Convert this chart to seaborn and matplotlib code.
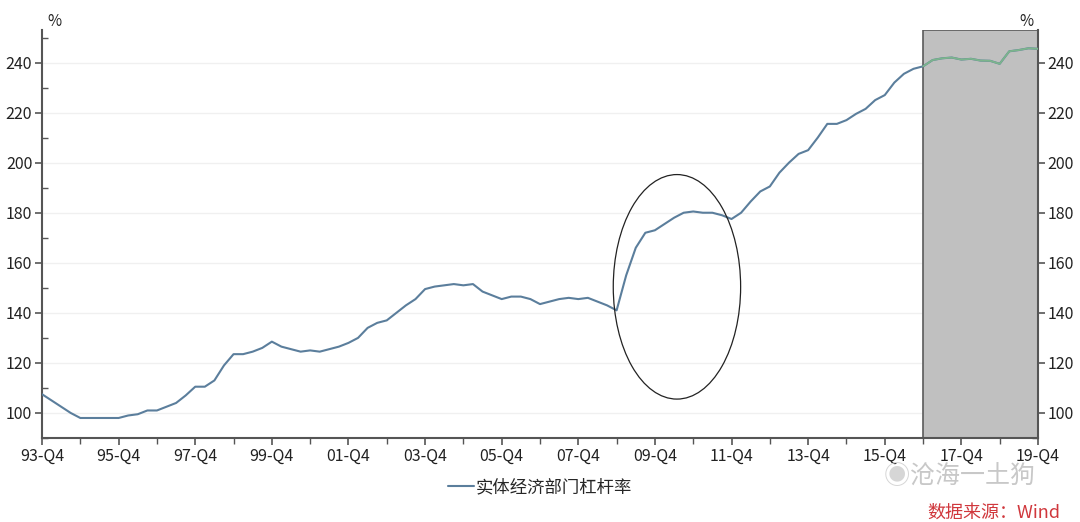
import matplotlib
matplotlib.use("Agg")
import matplotlib.pyplot as plt
from matplotlib.patches import Ellipse, Rectangle
from matplotlib.ticker import MultipleLocator
import seaborn as sns
import numpy as np
import pandas as pd

# quarterly leverage ratio, 93-Q4 .. 19-Q4
leverage = [
    107.5, 105, 102.5, 100, 98, 98, 98, 98, 98, 99,
    99.5, 101, 101, 102.5, 104, 107, 110.5, 110.5, 113, 119,
    123.5, 123.5, 124.5, 126, 128.5, 126.5, 125.5, 124.5, 125, 124.5,
    125.5, 126.5, 128, 130, 134, 136, 137, 140, 143, 145.5,
    149.5, 150.5, 151, 151.5, 151, 151.5, 148.5, 147, 145.5, 146.5,
    146.5, 145.5, 143.5, 144.5, 145.5, 146, 145.5, 146, 144.5, 143,
    141, 155, 166, 172, 173, 175.5, 178, 180, 180.5, 180,
    180, 179, 177.5, 180, 184.5, 188.5, 190.5, 196, 200, 203.5,
    205, 210, 215.5, 215.5, 217, 219.5, 221.5, 225, 227, 232,
    235.5, 237.5, 238.5, 241, 241.7, 242, 241.2, 241.5, 240.8, 240.7,
    239.5, 244.5, 245, 245.7, 245.5,
]
tick_labels = ["93-Q4", "95-Q4", "97-Q4", "99-Q4", "01-Q4", "03-Q4", "05-Q4",
               "07-Q4", "09-Q4", "11-Q4", "13-Q4", "15-Q4", "17-Q4", "19-Q4"]
series_name = "实体经济部门杠杆率"
shade_start = 92  # 16-Q4

df = pd.DataFrame({"q": np.arange(len(leverage)), "val": leverage})

sns.set_style("white")
plt.rcParams["font.family"] = ["Noto Sans CJK SC", "DejaVu Sans"]

fig = plt.figure(figsize=(10.8, 5.22), dpi=100)
ax = fig.add_axes([0.0389, 0.1609, 0.9222, 0.7816])

ymin, ymax = 90, 253
ax.set_ylim(ymin, ymax)
ax.set_xlim(0, 104)

for y in range(100, 241, 20):
    ax.axhline(y, color="#f0f0f0", lw=1, zorder=0)

ax.add_patch(Rectangle((shade_start, ymin), 104 - shade_start, ymax - ymin,
                       facecolor="#c0c0c0", edgecolor="#5a5a5a", lw=1.2, zorder=1))

blue = "#5b7e9c"
green = "#7cb58c"
sns.lineplot(data=df, x="q", y="val", ax=ax, color=blue, lw=1.5, zorder=3)
sns.lineplot(data=df[df.q >= shade_start], x="q", y="val", ax=ax, color=green, lw=1.3, zorder=4)

ax.add_patch(Ellipse((66.3, 150.4), 13.3, 89.7, fill=False, edgecolor="#222222", lw=0.9, zorder=5))

ax.set_xticks(np.arange(0, 105, 8))
ax.set_xticklabels(tick_labels)
ax.xaxis.set_minor_locator(MultipleLocator(4))
ax.set_yticks(np.arange(100, 241, 20))
ax.yaxis.set_minor_locator(MultipleLocator(10))
ax.tick_params(axis="both", which="both", color="#555555",
               labelsize=11.5, labelcolor="#222222")
ax.tick_params(axis="y", which="both", left=True, right=True, labelleft=True, labelright=True)
ax.tick_params(axis="both", which="major", direction="out", length=5, width=1.2, pad=2)
ax.tick_params(axis="x", which="minor", direction="out", length=4, width=1)
ax.tick_params(axis="y", which="minor", direction="in", length=4, width=1)
ax.tick_params(axis="x", which="both", bottom=True)
ax.set_xlabel("")
ax.set_ylabel("")

for s in ["left", "bottom", "right"]:
    ax.spines[s].set_color("#555555")
    ax.spines[s].set_linewidth(1.5)
ax.spines["top"].set_visible(False)

ax.text(0.005, 1.0, "%", transform=ax.transAxes, fontsize=11, va="bottom", ha="left", color="#222222")
ax.text(0.995, 1.0, "%", transform=ax.transAxes, fontsize=11, va="bottom", ha="right", color="#222222")

handle = plt.Line2D([], [], color=blue, lw=1.5)
fig.legend([handle], [series_name], loc="center", bbox_to_anchor=(0.5, 0.067),
           frameon=False, fontsize=12.5, handlelength=1.5, handletextpad=0.1)

# watermark
fig.text(0.843, 0.087, "沧海一土狗", fontsize=18, color="#c8c8c8", ha="left", va="center")
fig.text(0.818, 0.087, "◉", fontsize=19, color="#d6d6d6", ha="left", va="center")
fig.text(0.982, 0.018, "数据来源：Wind", fontsize=13, color="#d0373c", style="italic",
         ha="right", va="center")

fig.savefig("out.png", dpi=100)
